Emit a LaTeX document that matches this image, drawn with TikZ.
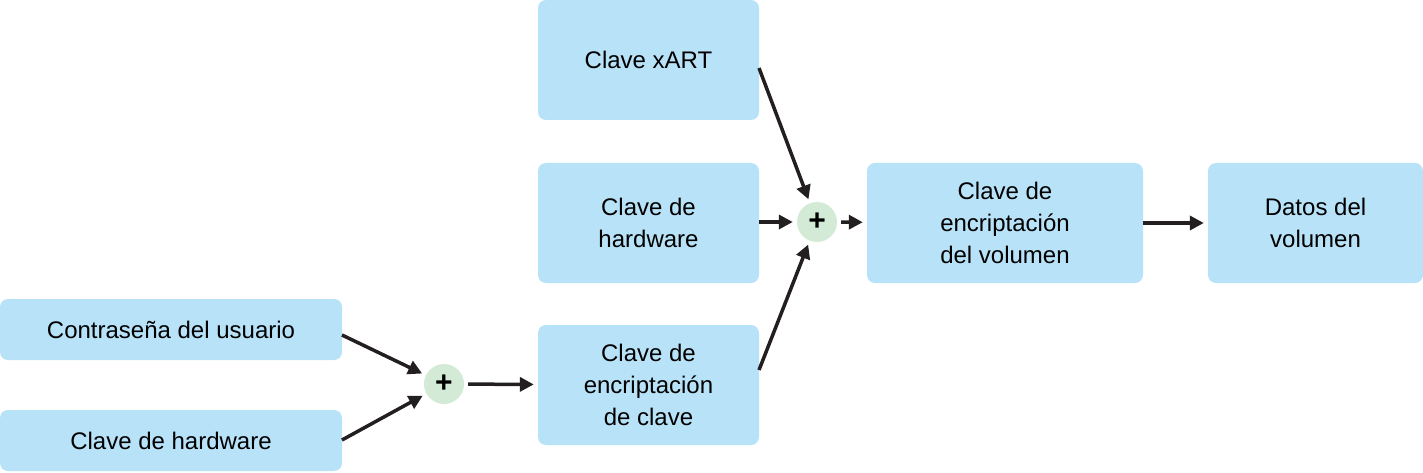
\documentclass[tikz,border=0pt]{standalone}
\usepackage{fontspec}
\setmainfont{Liberation Sans}
\usetikzlibrary{arrows.meta}
\definecolor{bx}{HTML}{B8E2F8}
\definecolor{cg}{HTML}{D3EBD6}
\definecolor{ar}{HTML}{231F20}
\begin{document}
\begin{tikzpicture}[x=1pt,y=-1pt,
  box/.style={fill=bx,rounded corners=8pt,align=center,font=\fontsize{24}{32}\selectfont,inner sep=0pt},
  plus/.style={circle,fill=cg,minimum size=40pt,inner sep=0pt,font=\fontsize{30}{30}\selectfont\bfseries},
  arr/.style={line width=3.5pt,ar,-{Triangle[length=14pt,width=14pt]},shorten >=4pt}]
\useasboundingbox (0,0) rectangle (1423,473);
\node[box,minimum width=221pt,minimum height=120pt] (xart) at (648.5,60) {Clave xART};
\node[box,minimum width=221pt,minimum height=120pt] (hw1) at (648.5,223) {Clave de\\hardware};
\node[box,minimum width=221pt,minimum height=120pt] (kek) at (648.5,385) {Clave de\\encriptación\\de clave};
\node[box,minimum width=342pt,minimum height=61pt] (pw) at (171,329.5) {Contraseña del usuario};
\node[box,minimum width=342pt,minimum height=61pt] (hw2) at (171,440.5) {Clave de hardware};
\node[box,minimum width=276pt,minimum height=120pt] (vek) at (1005,223) {Clave de\\encriptación\\del volumen};
\node[box,minimum width=215pt,minimum height=120pt] (dat) at (1315.5,223) {Datos del\\volumen};
\node[plus] (p1) at (817,222) {+};
\node[plus] (p2) at (444,384) {+};
\coordinate (a1) at (759,68);
\coordinate (a2) at (759,222);
\coordinate (a3) at (759,370);
\coordinate (a4) at (342,335);
\coordinate (a5) at (342,440);
\draw[arr] (a1) -- (p1);
\draw[arr] (a2) -- (p1);
\draw[arr] (a3) -- (p1);
\draw[arr,shorten <=4pt] (p1) -- (vek);
\draw[arr] (vek) -- (dat);
\draw[arr] (a4) -- (p2);
\draw[arr] (a5) -- (p2);
\draw[arr,shorten <=4pt] (p2) -- (kek);
\end{tikzpicture}
\end{document}
